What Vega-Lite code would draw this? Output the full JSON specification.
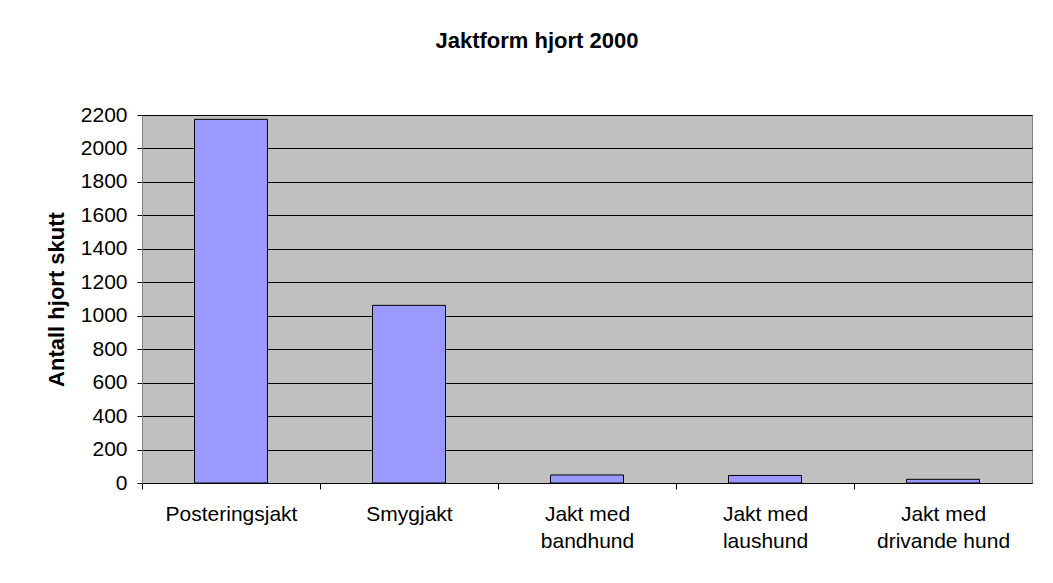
{
  "$schema": "https://vega.github.io/schema/vega-lite/v6.json",
  "autosize": {"type": "none"},
  "width": 890,
  "height": 368,
  "padding": {"left": 142, "top": 115, "right": 21, "bottom": 100},
  "background": "white",
  "title": {
    "text": "Jaktform hjort 2000",
    "font": "Liberation Sans",
    "fontSize": 22,
    "fontWeight": "bold",
    "color": "black",
    "baseline": "alphabetic",
    "offset": 34,
    "dx": -50
  },
  "data": {
    "values": [
      {"jaktform": "Posteringsjakt", "antall": 2174},
      {"jaktform": "Smygjakt", "antall": 1062},
      {"jaktform": "Jakt med|bandhund", "antall": 48},
      {"jaktform": "Jakt med|laushund", "antall": 45},
      {"jaktform": "Jakt med|drivande hund", "antall": 22}
    ]
  },
  "mark": {"type": "bar", "fill": "#9999ff", "stroke": "black", "strokeWidth": 1},
  "encoding": {
    "x": {
      "field": "jaktform",
      "type": "nominal",
      "sort": null,
      "scale": {"paddingInner": 0.59, "paddingOuter": 0.295},
      "axis": {
        "title": null,
        "labelAngle": 0,
        "labelExpr": "split(datum.label, '|')",
        "labelFont": "Liberation Sans",
        "labelFontSize": 21,
        "labelColor": "black",
        "labelLineHeight": 27,
        "labelPadding": 14,
        "labelBaseline": "top",
        "labelOffset": 89,
        "tickSize": 6,
        "tickColor": "black",
        "tickOffset": -89,
        "domainColor": "black",
        "domainWidth": 1,
        "grid": false
      }
    },
    "y": {
      "field": "antall",
      "type": "quantitative",
      "scale": {"domain": [0, 2200], "nice": false},
      "axis": {
        "title": "Antall hjort skutt",
        "titleFont": "Liberation Sans",
        "titleFontSize": 22,
        "titleFontWeight": "bold",
        "titleColor": "black",
        "titlePadding": 12,
        "format": "d",
        "values": [0, 200, 400, 600, 800, 1000, 1200, 1400, 1600, 1800, 2000, 2200],
        "labelFont": "Liberation Sans",
        "labelFontSize": 21,
        "labelColor": "black",
        "labelPadding": 10,
        "tickSize": 5,
        "tickColor": "black",
        "domainColor": "#808080",
        "grid": true,
        "gridColor": "black",
        "gridWidth": 1,
        "gridOpacity": 1
      }
    }
  },
  "config": {
    "view": {"fill": "#c0c0c0", "stroke": "#808080", "strokeWidth": 1}
  }
}
